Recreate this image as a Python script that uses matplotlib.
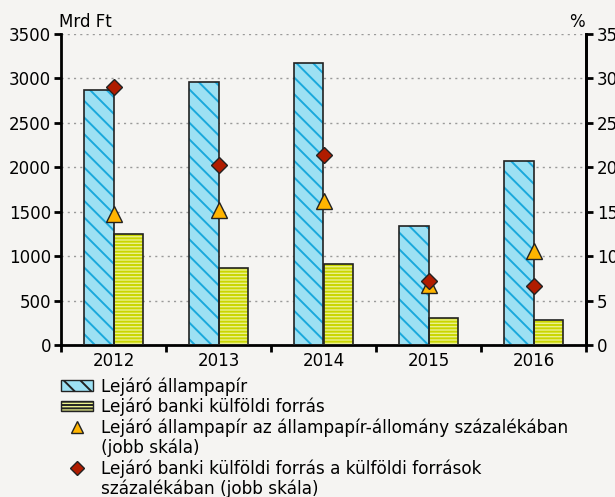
import numpy as np
import matplotlib
matplotlib.use('Agg')
from matplotlib import pyplot as plt
from matplotlib.lines import Line2D
from matplotlib.patches import Patch

years = ['2012', '2013', '2014', '2015', '2016']
allampapir = [2870, 2956, 3177, 1343, 2067]          # Mrd Ft
banki_forras = [1246, 870, 912, 300, 278]            # Mrd Ft
allampapir_pct = [14.7, 15.2, 16.2, 6.75, 10.6]      # % (jobb skála)
banki_pct = [29.0, 20.3, 21.4, 7.2, 6.6]             # % (jobb skála)

legend_labels = ['Lejáró állampapír',
                 'Lejáró banki külföldi forrás',
                 'Lejáró állampapír az állampapír-állomány százalékában',
                 '(jobb skála)',
                 'Lejáró banki külföldi forrás a külföldi források',
                 'százalékában (jobb skála)']

bg = '#f5f4f2'
blue_fill = '#9de0f3'
blue_hatch = '#1aa8dc'
green_fill = '#eaf08c'
green_hatch = '#cad600'
tri_color = '#ffb400'
dia_color = '#b01c00'

plt.rcParams['font.family'] = 'DejaVu Sans'
plt.rcParams['font.size'] = 12
plt.rcParams['hatch.linewidth'] = 1.4

fig = plt.figure(figsize=(6.15, 4.97), dpi=100, facecolor=bg)
ax = fig.add_axes([61 / 615, 1 - 345 / 497, 525 / 615, 311 / 497])
ax.set_facecolor(bg)

x = np.arange(len(years))
w = 0.28

# fill + hatch first, outline drawn on top
ax.bar(x - w / 2, allampapir, w, color=blue_fill, edgecolor=blue_hatch, hatch='\\\\', linewidth=0, zorder=2)
ax.bar(x - w / 2, allampapir, w, fill=False, edgecolor='#222222', linewidth=1.2, zorder=3)
ax.bar(x + w / 2, banki_forras, w, color=green_fill, edgecolor=green_hatch, hatch='-----', linewidth=0, zorder=2)
ax.bar(x + w / 2, banki_forras, w, fill=False, edgecolor='#222222', linewidth=1.2, zorder=3)

ax.set_xlim(-0.5, len(years) - 0.5)
ax.set_ylim(0, 3500)
ax.set_yticks(np.arange(0, 3501, 500))
ax.set_xticks(x)
ax.set_xticklabels(years)
ax.set_xticks(np.arange(-0.5, len(years)), minor=True)
ax.tick_params(axis='x', which='major', length=0, pad=5)
ax.tick_params(axis='x', which='minor', length=5, width=2)
ax.tick_params(axis='y', length=5, width=2, pad=2)
ax.grid(axis='y', linestyle=(0, (1.5, 3)), color='#9a9a9a', linewidth=1, zorder=0)
ax.set_axisbelow(True)

ax2 = ax.twinx()
ax2.set_ylim(0, 35)
ax2.set_yticks(np.arange(0, 36, 5))
ax2.tick_params(axis='y', length=5, width=2, pad=3)
ax2.plot(x, allampapir_pct, linestyle='none', marker='^', ms=12, mfc=tri_color, mec='#222222', mew=1, zorder=5)
ax2.plot(x, banki_pct, linestyle='none', marker='D', ms=8, mfc=dia_color, mec='#222222', mew=1, zorder=6)

for a in (ax, ax2):
    a.spines['top'].set_visible(False)
    for s in ('left', 'right', 'bottom'):
        a.spines[s].set_linewidth(2)
ax2.spines['left'].set_visible(False)
ax2.spines['bottom'].set_visible(False)

fig.text(59 / 615, 1 - 22 / 497, 'Mrd Ft', ha='left', va='center')
fig.text(585 / 615, 1 - 22 / 497, '%', ha='right', va='center')

blank = Line2D([], [], linestyle='none')
handles = [Patch(facecolor=blue_fill, edgecolor='#222222', hatch='\\\\'),
           Patch(facecolor=green_fill, edgecolor='#222222', hatch='-----'),
           Line2D([], [], linestyle='none', marker='^', ms=9, mfc=tri_color, mec='#222222'),
           blank,
           Line2D([], [], linestyle='none', marker='D', ms=7, mfc=dia_color, mec='#222222'),
           blank]
fig.legend(handles, legend_labels, loc='upper left', bbox_to_anchor=(61 / 615, 1 - 377 / 497),
           frameon=False, handlelength=1.86, handleheight=0.55, handletextpad=0.48,
           labelspacing=0.12, borderpad=0, borderaxespad=0, fontsize=12.2)

fig.savefig('out.png', dpi=100, facecolor=bg)
